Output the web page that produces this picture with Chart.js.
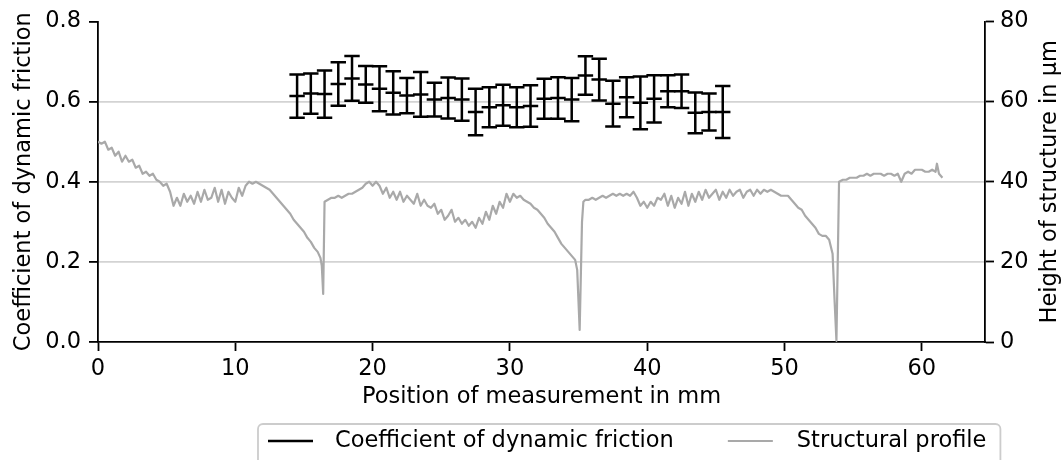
<!DOCTYPE html>
<html>
<head>
<meta charset="utf-8">
<script src="https://cdn.jsdelivr.net/npm/chart.js@4.4.1/dist/chart.umd.min.js"></script>
<style>
  html, body { margin: 0; padding: 0; background: #ffffff; }
  #wrap { width: 1063px; height: 460px; }
</style>
</head>
<body>
<div id="wrap"><canvas id="c" width="1063" height="460"></canvas></div>
<script>
// ---------- data ----------
const xTicks = [0, 10, 20, 30, 40, 50, 60];
const yTicks = [0, 0.2, 0.4, 0.6, 0.8];
const y2Ticks = [0, 20, 40, 60, 80];

const frictionX = [14.5, 15.5, 16.5, 17.5, 18.5, 19.5, 20.5, 21.5, 22.5, 23.5,
                   24.5, 25.5, 26.5, 27.5, 28.5, 29.5, 30.5, 31.5, 32.5, 33.5,
                   34.5, 35.5, 36.5, 37.5, 38.5, 39.5, 40.5, 41.5, 42.5, 43.5,
                   44.5, 45.5];
const frictionMean = [0.614, 0.620, 0.619, 0.644, 0.658, 0.643, 0.632, 0.622, 0.615, 0.618,
                      0.605, 0.609, 0.605, 0.574, 0.586, 0.591, 0.586, 0.589, 0.607, 0.609,
                      0.605, 0.665, 0.655, 0.595, 0.611, 0.597, 0.607, 0.626, 0.626, 0.572,
                      0.574, 0.574];
const frictionErr = [0.054, 0.050, 0.059, 0.054, 0.056, 0.046, 0.056, 0.054, 0.044, 0.056,
                     0.042, 0.051, 0.053, 0.058, 0.050, 0.051, 0.050, 0.052, 0.050, 0.052,
                     0.054, 0.048, 0.052, 0.057, 0.050, 0.066, 0.059, 0.040, 0.042, 0.051,
                     0.046, 0.065];

const profileX = [
  0,0.25,0.5,0.75,1,1.25,1.5,1.75,2,2.25,
  2.5,2.75,3,3.25,3.5,3.75,4,4.25,4.5,4.75,
  5,5.25,5.5,5.75,6,6.25,6.5,6.75,7,7.25,
  7.5,7.75,8,8.25,8.5,8.75,9,9.25,9.5,9.75,
  10,10.25,10.5,10.75,11,11.25,11.5,11.75,12,12.25,
  12.5,12.75,13,13.25,13.5,13.75,14,14.25,14.5,14.75,
  15,15.25,15.5,15.75,16,16.2,16.3,16.4,16.5,16.75,
  17,17.25,17.5,17.75,18,18.25,18.5,18.75,19,19.25,
  19.5,19.75,20,20.25,20.5,20.75,21,21.25,21.5,21.75,
  22,22.25,22.5,22.75,23,23.25,23.5,23.75,24,24.25,
  24.5,24.75,25,25.25,25.5,25.75,26,26.25,26.5,26.75,
  27,27.25,27.5,27.75,28,28.25,28.5,28.75,29,29.25,
  29.5,29.75,30,30.25,30.5,30.75,31,31.25,31.5,31.75,
  32,32.25,32.5,32.75,33,33.25,33.5,33.75,34,34.25,
  34.5,34.75,34.9,35.08,35.25,35.35,35.5,35.75,36,36.25,
  36.5,36.75,37,37.25,37.5,37.75,38,38.25,38.5,38.75,
  39,39.25,39.5,39.75,40,40.25,40.5,40.75,41,41.25,
  41.5,41.75,42,42.25,42.5,42.75,43,43.25,43.5,43.75,
  44,44.25,44.5,44.75,45,45.25,45.5,45.75,46,46.25,
  46.5,46.75,47,47.25,47.5,47.75,48,48.25,48.5,48.75,
  49,49.25,49.5,49.75,50,50.25,50.5,50.75,51,51.25,
  51.5,51.75,52,52.25,52.5,52.75,53,53.25,53.5,53.65,
  53.78,53.97,54.25,54.5,54.75,55,55.25,55.5,55.75,56,
  56.25,56.5,56.75,57,57.25,57.5,57.75,58,58.25,58.5,
  58.75,59,59.25,59.5,59.75,60,60.25,60.5,60.75,61,
  61.1,61.25,61.5
];
const profileY = [
  50,49.5,50,48,48.5,46.5,47.5,45,46.5,45,
  45.5,43.5,44,42,42.5,41.5,42,40.5,40,39,
  39.5,37.5,34,36,34,37,35,36.5,34.5,37.5,
  35,38,35.5,36,38.5,35,38,34.5,37.5,36,
  35,38.5,36.5,39,40,39.5,40,39.5,39,38.5,
  38,37,36,35,34,33,32,30.5,29.5,28.5,
  27.5,26,25,23.5,22.5,21,19,12,35,35.5,
  36,36,36.5,36,36.5,37,37,37.5,38,38.5,
  39.5,40,39,40,39,37,38.5,36,37.5,35.5,
  37.5,35,36.5,35.5,34.5,37,34,35.5,34,33.5,
  34.5,32,33,30.5,31.5,33,30,31,29.5,30.5,
  29,30,28.5,31,29.5,32.5,30.5,34,32,35,
  33.5,37,35,37,36,36.5,35.5,35,34.5,33.5,
  33,32,31,29.5,28.5,27.5,26,24.5,23.5,22.5,
  21.5,20.5,18,3,30,35,35.5,35.5,36,35.5,
  36,36.5,36,36.5,37,36.5,37,36.5,37,36.5,
  37.5,36,34,35,33.5,35,34,36,35.5,37,
  34,36.5,33.5,36,34.5,37.5,34,37,35,37.5,
  35.5,38,36,37,38,35.5,37.5,36,38,36.5,
  37.5,38,36,37.5,38,36.5,38,37,38,37.5,
  38,37.5,37,36.5,36.5,36.5,35.5,34.5,33.5,33,
  31.5,30.5,29.5,28.5,27,26.5,26.5,25.5,22,10,
  0.3,40,40.5,40.5,41,41,41,41.5,41.5,42,
  41.5,42,42,42,41.5,42,42,41.5,42,40,
  42,42.5,42,43,43,43,42.5,42.5,43,42.5,
  44.5,42,41
];

const xTitle = 'Position of measurement in mm';
const yTitle = 'Coefficient of dynamic friction';
const y2Title = 'Height of structure in µm';
const frictionLabel = 'Coefficient of dynamic friction';
const profileLabel = 'Structural profile';

// ---------- styling ----------
const FONT_FAMILY = "'DejaVu Sans', sans-serif";
const FONT_SIZE = 22.5;
const font = { family: FONT_FAMILY, size: FONT_SIZE };
const BLACK = '#000000';
const GRID = '#d3d3d3';
const PROFILE_COLOR = '#a9a9a9';

Chart.defaults.color = BLACK;
Chart.defaults.font.family = FONT_FAMILY;
Chart.defaults.font.size = FONT_SIZE;

const errorBars = {
  id: 'errorBars',
  afterDatasetsDraw(chart) {
    const xs = chart.scales.x, ys = chart.scales.y, ctx = chart.ctx;
    ctx.save();
    ctx.strokeStyle = BLACK;
    ctx.lineWidth = 2.5;
    const capHalf = 7.7;
    frictionX.forEach((xv, i) => {
      const px = xs.getPixelForValue(xv);
      const top = ys.getPixelForValue(frictionMean[i] + frictionErr[i]);
      const bot = ys.getPixelForValue(frictionMean[i] - frictionErr[i]);
      ctx.beginPath();
      ctx.moveTo(px, top); ctx.lineTo(px, bot);
      ctx.moveTo(px - capHalf, top); ctx.lineTo(px + capHalf, top);
      ctx.moveTo(px - capHalf, bot); ctx.lineTo(px + capHalf, bot);
      ctx.stroke();
    });
    ctx.restore();
  }
};

const extras = {
  id: 'extras',
  afterDraw(chart) {
    const ctx = chart.ctx;
    const area = chart.chartArea;
    ctx.save();
    // right axis title (reads bottom-to-top)
    ctx.font = `${FONT_SIZE}px ${FONT_FAMILY}`;
    ctx.fillStyle = BLACK;
    ctx.translate(1050, (area.top + area.bottom) / 2);
    ctx.rotate(-Math.PI / 2);
    ctx.textAlign = 'center';
    ctx.textBaseline = 'middle';
    ctx.fillText(y2Title, 0, 0);
    ctx.restore();

    // legend box
    ctx.save();
    ctx.font = `${FONT_SIZE}px ${FONT_SIZE ? FONT_FAMILY : ''}`;
    const ds = chart.data.datasets;
    const L = 258, T = 424, cy = 441;
    const h1x = L + 10, hLen = 45;
    const t1x = h1x + hLen + 22;
    const w1 = ctx.measureText(ds[0].label).width;
    const h2x = t1x + w1 + 54;
    const t2x = h2x + hLen + 24;
    const w2 = ctx.measureText(ds[1].label).width;
    const R = t2x + w2 + 14;
    const B = 475, r = 5;
    ctx.beginPath();
    ctx.moveTo(L + r, T);
    ctx.lineTo(R - r, T); ctx.arcTo(R, T, R, T + r, r);
    ctx.lineTo(R, B - r); ctx.arcTo(R, B, R - r, B, r);
    ctx.lineTo(L + r, B); ctx.arcTo(L, B, L, B - r, r);
    ctx.lineTo(L, T + r); ctx.arcTo(L, T, L + r, T, r);
    ctx.closePath();
    ctx.fillStyle = 'rgba(255,255,255,0.8)';
    ctx.fill();
    ctx.strokeStyle = '#cccccc';
    ctx.lineWidth = 1.8;
    ctx.stroke();

    ctx.lineWidth = 2.5;
    ctx.strokeStyle = BLACK;
    ctx.beginPath(); ctx.moveTo(h1x, cy); ctx.lineTo(h1x + hLen, cy); ctx.stroke();
    ctx.lineWidth = 2.2;
    ctx.strokeStyle = PROFILE_COLOR;
    ctx.beginPath(); ctx.moveTo(h2x, cy); ctx.lineTo(h2x + hLen, cy); ctx.stroke();

    ctx.fillStyle = BLACK;
    ctx.textAlign = 'left';
    ctx.textBaseline = 'middle';
    ctx.fillText(ds[0].label, t1x, cy);
    ctx.fillText(ds[1].label, t2x, cy);
    ctx.restore();
  }
};

const tickSetter = arr => scale => { scale.ticks = arr.map(v => ({ value: v })); };

new Chart(document.getElementById('c'), {
  type: 'scatter',
  data: {
    datasets: [
      {
        label: frictionLabel,
        data: frictionX.map((x, i) => ({ x, y: frictionMean[i] })),
        yAxisID: 'y',
        showLine: false,
        pointStyle: 'line',
        pointRadius: 7.7,
        pointHoverRadius: 7.7,
        pointBorderWidth: 2.5,
        pointBorderColor: BLACK,
        pointBackgroundColor: BLACK,
        borderColor: BLACK
      },
      {
        label: profileLabel,
        data: profileX.map((x, i) => ({ x, y: profileY[i] })),
        yAxisID: 'y2',
        showLine: true,
        borderColor: PROFILE_COLOR,
        borderWidth: 2.2,
        pointRadius: 0,
        pointHoverRadius: 0,
        tension: 0,
        borderJoinStyle: 'round',
        fill: false
      }
    ]
  },
  options: {
    responsive: false,
    animation: false,
    events: [],
    layout: { padding: { top: 20, left: 0, right: 0, bottom: 0 } },
    plugins: {
      legend: { display: false },
      tooltip: { enabled: false }
    },
    scales: {
      x: {
        type: 'linear',
        position: 'bottom',
        min: 0,
        max: 64.6,
        afterBuildTicks: tickSetter(xTicks),
        afterFit: s => { s.height = 118; },
        ticks: { font, color: BLACK, padding: 5, maxRotation: 0, autoSkip: false },
        grid: { drawOnChartArea: false, drawTicks: true, tickLength: 9, tickColor: BLACK, tickWidth: 1.8 },
        border: { display: true, color: BLACK, width: 1.8 },
        title: { display: true, text: xTitle, font, color: BLACK, padding: { top: 0, bottom: 49.5 } }
      },
      y: {
        type: 'linear',
        position: 'left',
        min: 0,
        max: 0.8,
        afterBuildTicks: tickSetter(yTicks),
        afterFit: s => { s.width = 98; },
        ticks: { font, color: BLACK, padding: 8, callback: v => Number(v).toFixed(1) },
        grid: {
          color: c => (c.tick && c.tick.value > 0.001 && c.tick.value < 0.799) ? GRID : 'rgba(0,0,0,0)',
          lineWidth: 1.8,
          drawTicks: true,
          tickLength: 9,
          tickColor: BLACK,
          tickWidth: 1.8
        },
        border: { display: true, color: BLACK, width: 1.8 },
        title: { display: true, text: yTitle, font, color: BLACK, padding: { top: 10.5, bottom: 0 } }
      },
      y2: {
        type: 'linear',
        position: 'right',
        min: 0,
        max: 80,
        afterBuildTicks: tickSetter(y2Ticks),
        afterFit: s => { s.width = 78; },
        ticks: { font, color: BLACK, padding: 6, callback: v => String(Math.round(v)) },
        grid: { drawOnChartArea: false, drawTicks: true, tickLength: 9, tickColor: BLACK, tickWidth: 1.8 },
        border: { display: true, color: BLACK, width: 1.8 }
      }
    }
  },
  plugins: [errorBars, extras]
});
</script>
</body>
</html>
